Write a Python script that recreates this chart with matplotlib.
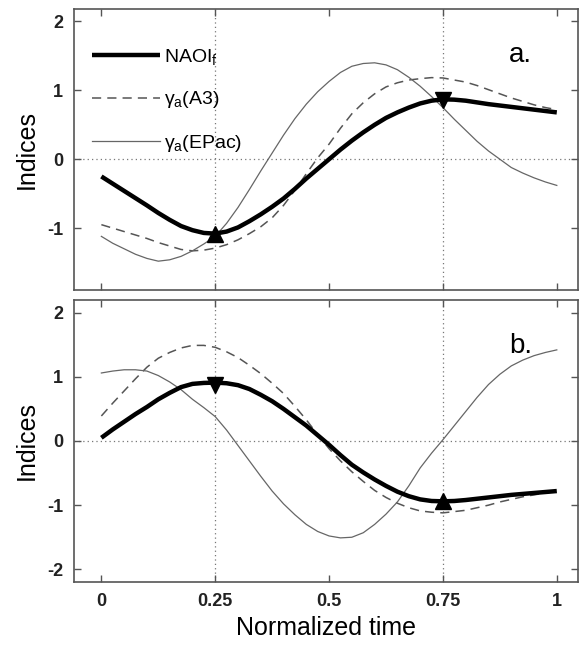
import numpy as np
import matplotlib.pyplot as plt

plt.rcParams['font.family'] = ['Liberation Sans', 'DejaVu Sans']
plt.rcParams['mathtext.fontset'] = 'custom'
plt.rcParams['mathtext.rm'] = 'Liberation Sans'
plt.rcParams['mathtext.it'] = 'Liberation Sans'

# Normalized time (step 0.025)
t = [0.0, 0.025, 0.05, 0.075, 0.1, 0.125, 0.15, 0.175, 0.2, 0.225,
     0.25, 0.275, 0.3, 0.325, 0.35, 0.375, 0.4, 0.425, 0.45, 0.475,
     0.5, 0.525, 0.55, 0.575, 0.6, 0.625, 0.65, 0.675, 0.7, 0.725,
     0.75, 0.775, 0.8, 0.825, 0.85, 0.875, 0.9, 0.925, 0.95, 0.975, 1.0]

# Panel a
naoi_a = [-0.25, -0.355, -0.46, -0.565, -0.67, -0.78, -0.88, -0.97, -1.03, -1.07,
          -1.08, -1.05, -0.99, -0.90, -0.80, -0.69, -0.57, -0.43, -0.28, -0.14,
          0.00, 0.14, 0.27, 0.39, 0.50, 0.60, 0.68, 0.75, 0.81, 0.85,
          0.87, 0.865, 0.85, 0.825, 0.80, 0.78, 0.76, 0.74, 0.72, 0.70, 0.68]
a3_a = [-0.95, -1.00, -1.05, -1.10, -1.15, -1.21, -1.26, -1.31, -1.33, -1.32,
        -1.29, -1.24, -1.17, -1.08, -0.98, -0.85, -0.67, -0.45, -0.21, 0.02,
        0.22, 0.45, 0.66, 0.82, 0.95, 1.05, 1.11, 1.15, 1.17, 1.185,
        1.18, 1.15, 1.12, 1.07, 1.01, 0.95, 0.89, 0.84, 0.79, 0.75, 0.72]
epac_a = [-1.12, -1.22, -1.30, -1.38, -1.44, -1.48, -1.46, -1.41, -1.33, -1.23,
          -1.12, -0.93, -0.70, -0.44, -0.17, 0.09, 0.35, 0.59, 0.80, 0.98,
          1.13, 1.26, 1.35, 1.39, 1.40, 1.37, 1.30, 1.19, 1.06, 0.91,
          0.75, 0.58, 0.42, 0.26, 0.12, 0.00, -0.12, -0.20, -0.27, -0.33, -0.38]

# Panel b
naoi_b = [0.05, 0.18, 0.30, 0.42, 0.53, 0.65, 0.75, 0.84, 0.89, 0.905,
          0.91, 0.90, 0.87, 0.81, 0.72, 0.62, 0.50, 0.37, 0.24, 0.09,
          -0.06, -0.22, -0.37, -0.49, -0.60, -0.70, -0.79, -0.86, -0.91, -0.935,
          -0.94, -0.935, -0.92, -0.90, -0.88, -0.86, -0.84, -0.825, -0.81, -0.795, -0.78]
a3_b = [0.39, 0.59, 0.78, 0.97, 1.15, 1.29, 1.38, 1.45, 1.49, 1.49,
        1.46, 1.39, 1.30, 1.18, 1.05, 0.90, 0.74, 0.54, 0.33, 0.10,
        -0.12, -0.31, -0.48, -0.63, -0.77, -0.88, -0.97, -1.04, -1.09, -1.11,
        -1.12, -1.10, -1.08, -1.04, -1.00, -0.95, -0.91, -0.87, -0.84, -0.81, -0.78]
epac_b = [1.06, 1.09, 1.11, 1.11, 1.09, 1.02, 0.92, 0.80, 0.65, 0.52,
          0.38, 0.17, -0.07, -0.31, -0.55, -0.78, -0.98, -1.15, -1.30, -1.41,
          -1.48, -1.51, -1.50, -1.43, -1.30, -1.14, -0.95, -0.70, -0.42, -0.19,
          0.02, 0.24, 0.46, 0.68, 0.88, 1.04, 1.17, 1.26, 1.33, 1.38, 1.42]

# extrema markers (time, value, marker)
ext_a = [(0.25, -1.08, '^'), (0.75, 0.86, 'v')]
ext_b = [(0.25, 0.88, 'v'), (0.75, -0.94, '^')]

xticks = [0, 0.25, 0.5, 0.75, 1]
xticklabels = ['0', '0.25', '0.5', '0.75', '1']
grid_x = [0.25, 0.75]

fig = plt.figure(figsize=(5.83, 6.49), dpi=100)
ax1 = fig.add_axes([0.127, 0.553, 0.864, 0.433])
ax2 = fig.add_axes([0.127, 0.103, 0.864, 0.435])

panels = [(ax1, naoi_a, a3_a, epac_a, ext_a, (-1.9, 2.18), [-1, 0, 1, 2], 'a.'),
          (ax2, naoi_b, a3_b, epac_b, ext_b, (-2.2, 2.2), [-2, -1, 0, 1, 2], 'b.')]

for ax, naoi, a3, epac, ext, ylim, yticks, tag in panels:
    for gx in grid_x:
        ax.axvline(gx, color='#777777', lw=0.9, ls=(0, (1, 2.5)), zorder=1)
    ax.axhline(0, color='#777777', lw=0.9, ls=(0, (1, 2.5)), zorder=1)
    ax.plot(t, naoi, color='black', lw=3.2, label='NAOI$_f$', zorder=4,
            solid_capstyle='butt')
    ax.plot(t, a3, color='#555555', lw=1.1, ls=(0, (6, 4)), label=r'$\gamma_a$(A3)', zorder=3)
    ax.plot(t, epac, color='#666666', lw=0.9, label=r'$\gamma_a$(EPac)', zorder=3)
    for xe, ye, m in ext:
        ax.plot(xe, ye, marker=m, color='black', ms=12, zorder=5)
    ax.set_xlim(-0.06, 1.046)
    ax.set_ylim(*ylim)
    ax.set_yticks(yticks)
    ax.set_yticklabels([str(v) for v in yticks], fontsize=13, fontweight='bold',
                       color='#222222')
    ax.set_xticks(xticks)
    ax.tick_params(direction='in', length=5, width=1, color='#555555',
                   top=True, right=True, pad=8)
    for s in ax.spines.values():
        s.set_color('#555555')
        s.set_linewidth(1.2)
    ax.set_ylabel('Indices', fontsize=18, labelpad=6)
    ax.text(0.887, 0.836, tag, transform=ax.transAxes, fontsize=20,
            ha='center', va='center')

ax1.set_xticklabels([])
ax2.set_xticklabels(xticklabels, fontsize=13, fontweight='bold', color='#222222')
ax2.set_xlabel('Normalized time', fontsize=18, labelpad=4)

ax1.legend(loc='upper left', bbox_to_anchor=(0.035, 0.865), frameon=False,
           fontsize=14, handlelength=3.5, handletextpad=0.2, labelspacing=1.15,
           borderpad=0, borderaxespad=0)

fig.savefig('out.png', dpi=100)
